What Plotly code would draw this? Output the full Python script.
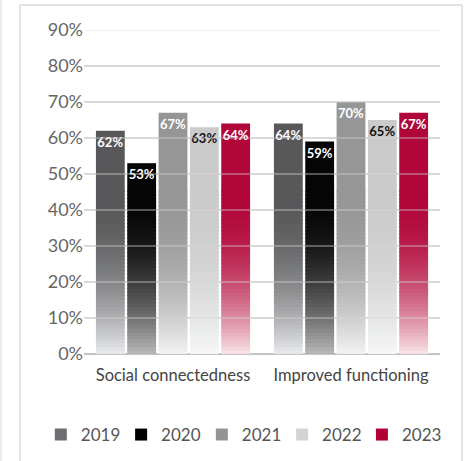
import plotly.graph_objects as go

categories = ["Social connectedness", "Improved functioning"]
years = ["2019", "2020", "2021", "2022", "2023"]
values = {
    "2019": [62, 64],
    "2020": [53, 59],
    "2021": [67, 70],
    "2022": [63, 65],
    "2023": [64, 67],
}
top_colors = {
    "2019": (88, 88, 90),
    "2020": (5, 5, 5),
    "2021": (150, 150, 150),
    "2022": (203, 203, 203),
    "2023": (176, 6, 58),
}
bottom_colors = {
    "2019": (234, 235, 238),
    "2020": (185, 185, 185),
    "2021": (243, 243, 243),
    "2022": (246, 247, 247),
    "2023": (249, 228, 231),
}
legend_colors = {
    "2019": "#6d6d72",
    "2020": "#000000",
    "2021": "#949497",
    "2022": "#d3d3d5",
    "2023": "#b00034",
}
label_colors = {
    "2019": "#ffffff",
    "2020": "#ffffff",
    "2021": "#ffffff",
    "2022": "#111111",
    "2023": "#ffffff",
}
y_ticks = [0, 10, 20, 30, 40, 50, 60, 70, 80, 90]
y_ticklabels = [f"{t}%" for t in y_ticks]

FADE_H = 45
STEP = 1

def mix(c_top, c_bot, s):
    return "rgb({},{},{})".format(*[round(b + (t - b) * s) for t, b in zip(c_top, c_bot)])

fig = go.Figure()

legend_ids = ["legend", "legend2", "legend3", "legend4", "legend5"]
legend_x = [0.088, 0.261, 0.435, 0.608, 0.780]

# legend entries, one legend per year
for yr, lid in zip(years, legend_ids):
    fig.add_trace(go.Bar(
        x=categories, y=[0, 0], name=yr, offsetgroup=yr, legend=lid,
        marker=dict(color=legend_colors[yr], line=dict(width=0)),
        showlegend=True, hoverinfo="skip",
    ))

# gradient segments (slightly overlapping to avoid seams)
for yr in years:
    vals = values[yr]
    k = 0
    while k < FADE_H:
        mid = k + STEP / 2
        s = 1 - (1 - mid / FADE_H) ** 2
        fig.add_trace(go.Bar(
            x=categories, y=[STEP + 0.4] * len(vals), base=[k] * len(vals),
            offsetgroup=yr, showlegend=False, hoverinfo="skip",
            marker=dict(color=mix(top_colors[yr], bottom_colors[yr], s), line=dict(width=0)),
        ))
        k += STEP
    fig.add_trace(go.Bar(
        x=categories, y=[v - FADE_H for v in vals], base=[FADE_H] * len(vals),
        offsetgroup=yr, showlegend=False, hoverinfo="skip",
        marker=dict(color="rgb({},{},{})".format(*top_colors[yr]), line=dict(width=0)),
    ))

# labels
for yr in years:
    vals = values[yr]
    fig.add_trace(go.Bar(
        x=categories, y=vals, base=[0] * len(vals), offsetgroup=yr,
        showlegend=False, hoverinfo="skip",
        marker=dict(color="rgba(0,0,0,0)", line=dict(width=0)),
        text=[f"{v}%" for v in vals], textposition="inside", insidetextanchor="end",
        textangle=0, constraintext="none",
        textfont=dict(family="Lato", size=13, color=label_colors[yr], weight="bold"),
    ))

shapes = []
for t in y_ticks[1:]:
    shapes.append(dict(type="line", xref="paper", yref="y", x0=0, x1=1, y0=t, y1=t,
                       line=dict(color="rgba(215,215,215,0.5)", width=1.5), layer="above"))
# outer frame
shapes.append(dict(type="line", xref="paper", yref="paper", x0=-0.18, x1=-0.18, y0=-0.4, y1=1.077,
                   line=dict(color="#e2e2e2", width=2), layer="below"))
shapes.append(dict(type="line", xref="paper", yref="paper", x0=-0.18, x1=1.062, y0=1.077, y1=1.077,
                   line=dict(color="#e2e2e2", width=2), layer="below"))
shapes.append(dict(type="line", xref="paper", yref="paper", x0=1.062, x1=1.062, y0=-0.4, y1=1.077,
                   line=dict(color="#e2e2e2", width=2), layer="below"))
shapes.append(dict(type="line", xref="paper", yref="paper", x0=-0.233, x1=-0.233, y0=-0.4, y1=1.2,
                   line=dict(color="#ececec", width=2), layer="below"))

layout_legends = {}
for lid, lx in zip(legend_ids, legend_x):
    layout_legends[lid] = dict(
        orientation="h", x=lx, xref="container", xanchor="left",
        y=-0.25, yref="paper", yanchor="middle",
        font=dict(size=17, color="#555555"), itemclick=False,
    )

fig.update_layout(
    width=464, height=461,
    margin=dict(l=84, r=24, t=30, b=107, autoexpand=False),
    paper_bgcolor="white", plot_bgcolor="white",
    barmode="group", bargap=0.12, bargroupgap=0.08,
    font=dict(family="Lato", color="#555555"),
    showlegend=True,
    shapes=shapes,
    xaxis=dict(type="category", range=[-0.5, 1.5], showgrid=False, showline=False,
               ticks="outside", ticklen=6, tickcolor="rgba(0,0,0,0)", tickangle=0,
               automargin=False, tickfont=dict(size=16.5, color="#444444")),
    yaxis=dict(range=[0, 90], tickvals=y_ticks, ticktext=y_ticklabels, automargin=False,
               showgrid=True, gridcolor="#dcdcdc", gridwidth=1.5,
               zeroline=True, zerolinecolor="#c4c4c4", zerolinewidth=2,
               showline=False, tickfont=dict(size=18, color="#666666")),
    **layout_legends,
)

fig.write_html("out.html")
